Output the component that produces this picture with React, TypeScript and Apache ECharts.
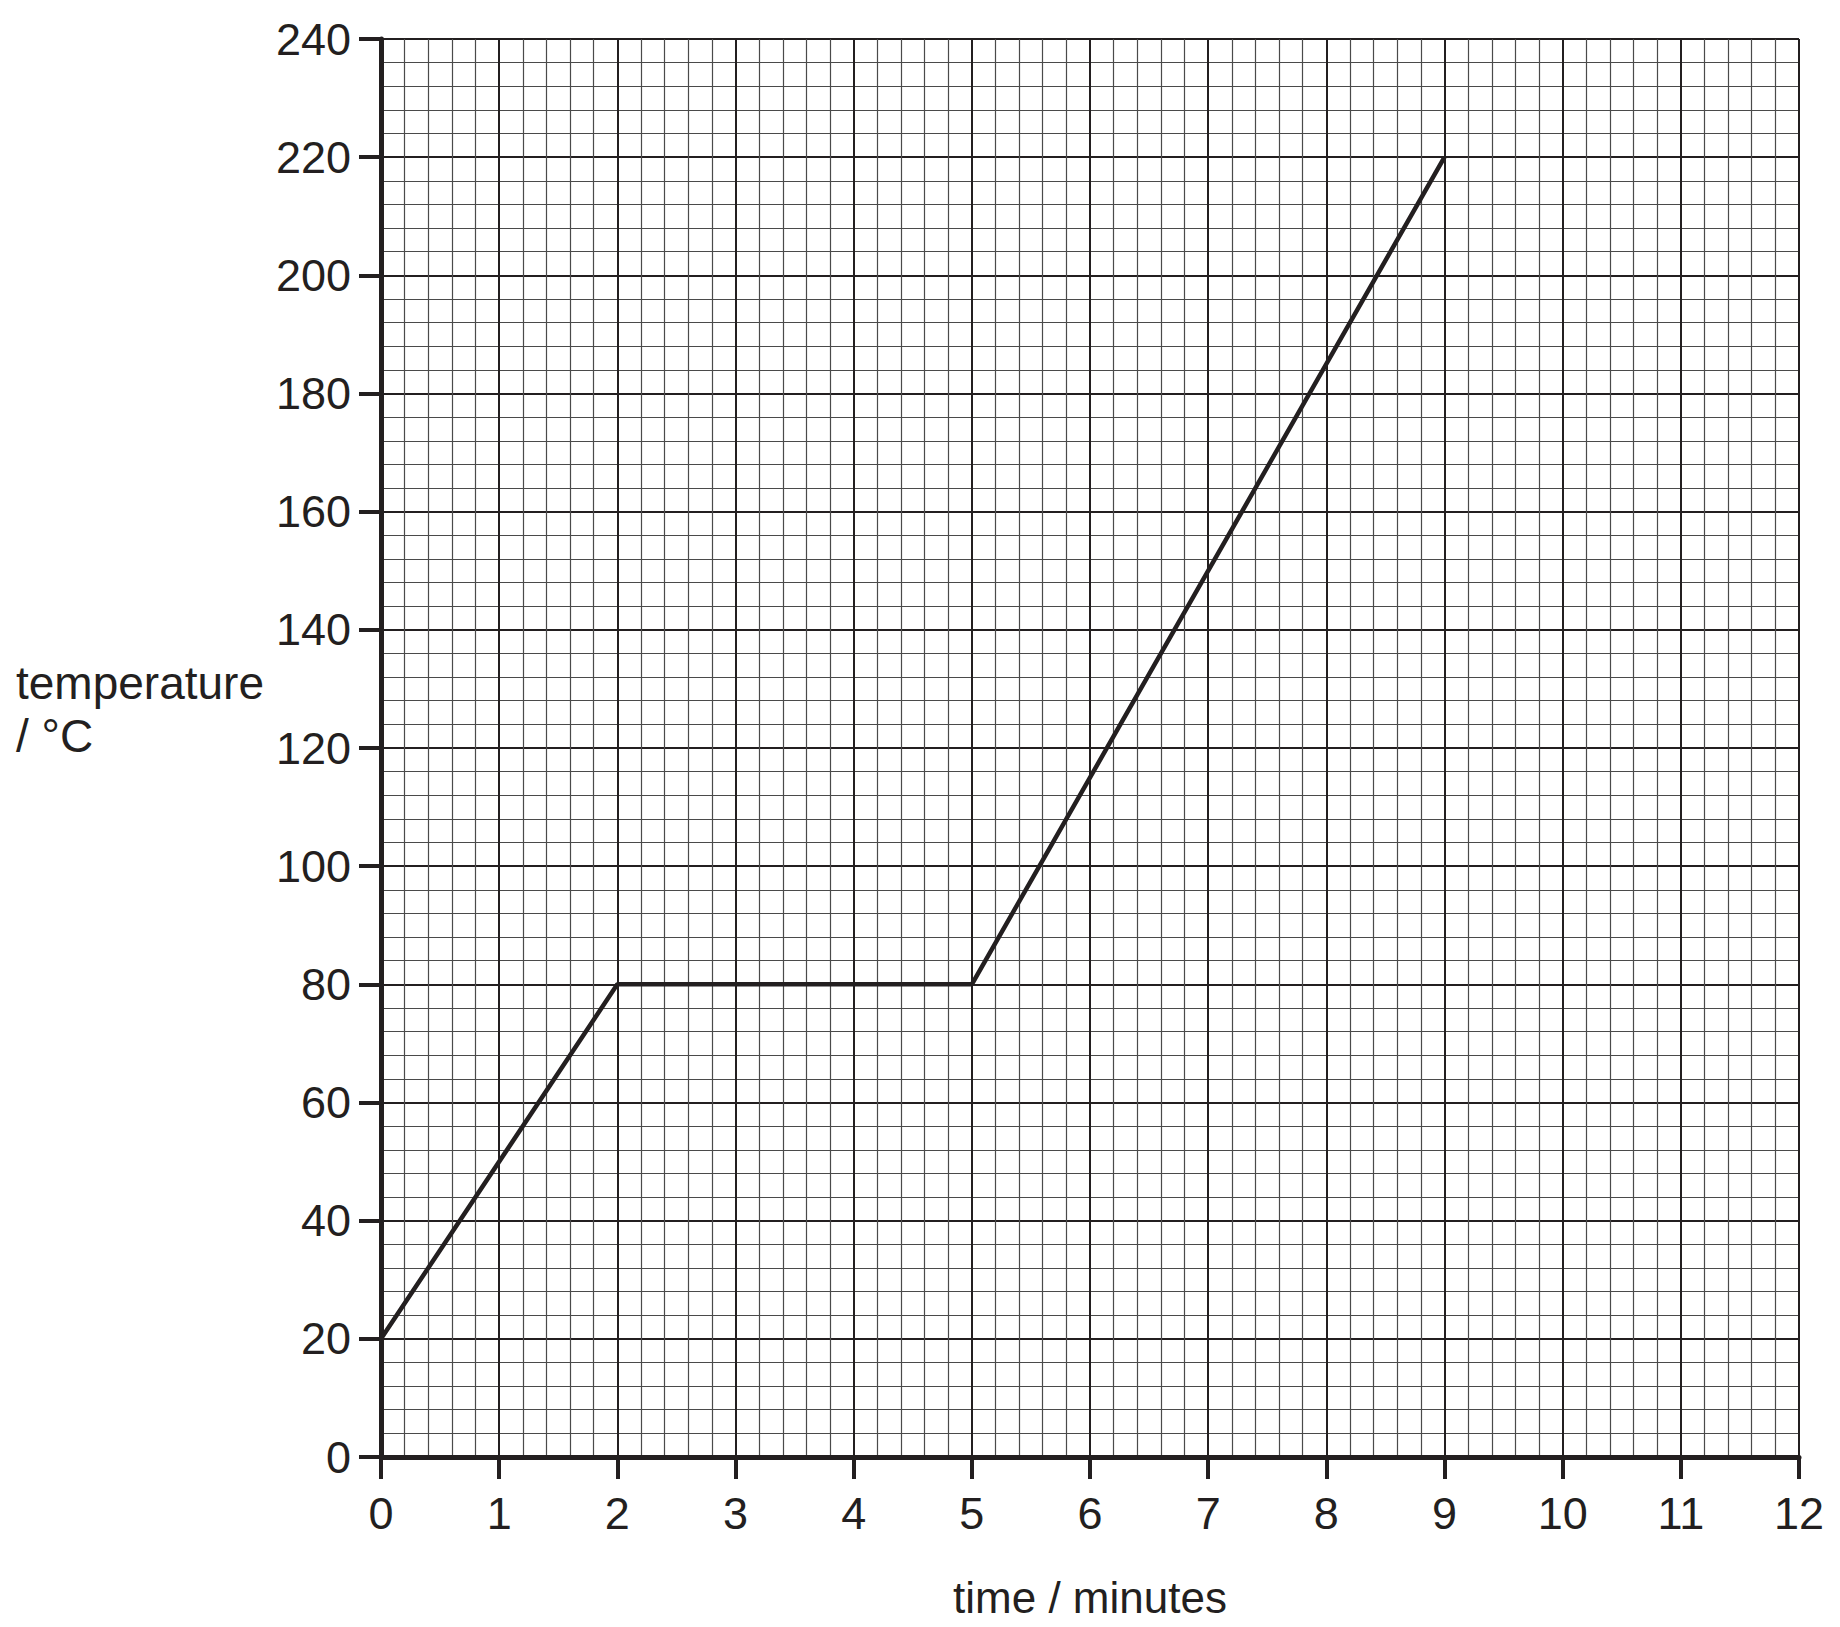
import React, { useEffect, useRef } from "react";
import * as echarts from "echarts";

const timeMinutes = [0, 2, 5, 9];
const temperatureC = [20, 80, 80, 220];
const xTicks = [0, 1, 2, 3, 4, 5, 6, 7, 8, 9, 10, 11, 12];
const yTicks = [0, 20, 40, 60, 80, 100, 120, 140, 160, 180, 200, 220, 240];

const INK = "#231f20";
const FONT = "'Liberation Sans', Arial, Helvetica, sans-serif";

export default function App() {
  const ref = useRef<HTMLDivElement>(null);
  useEffect(() => {
    document.body.style.margin = "0";
    const chart = echarts.init(ref.current!, null, { renderer: "svg" });
    const data = timeMinutes.map((t, i) => [t, temperatureC[i]]);
    chart.setOption({
      animation: false,
      backgroundColor: "#ffffff",
      textStyle: { fontFamily: FONT, color: INK },
      grid: { left: 381, top: 39, right: 41, bottom: 170, containLabel: false },
      xAxis: {
        type: "value",
        min: xTicks[0],
        max: xTicks[xTicks.length - 1],
        interval: 1,
        name: "time / minutes",
        nameLocation: "middle",
        nameGap: 118,
        nameTextStyle: { fontSize: 44, color: INK, fontFamily: FONT },
        axisLine: { show: true, onZero: false, lineStyle: { color: INK, width: 5 } },
        axisTick: { show: true, inside: false, length: 22, lineStyle: { color: INK, width: 4 } },
        axisLabel: { fontSize: 45, color: INK, margin: 34, fontFamily: FONT },
        splitLine: { show: true, lineStyle: { color: INK, width: 2 } },
        minorTick: { show: false, splitNumber: 5 },
        minorSplitLine: { show: true, lineStyle: { color: "#4a4a4a", width: 1.2 } },
      },
      yAxis: {
        type: "value",
        min: yTicks[0],
        max: yTicks[yTicks.length - 1],
        interval: 20,
        axisLine: { show: true, onZero: false, lineStyle: { color: INK, width: 5 } },
        axisTick: { show: true, inside: false, length: 22, lineStyle: { color: INK, width: 4 } },
        axisLabel: { fontSize: 45, color: INK, margin: 30, fontFamily: FONT },
        splitLine: { show: true, lineStyle: { color: INK, width: 2 } },
        minorTick: { show: false, splitNumber: 5 },
        minorSplitLine: { show: true, lineStyle: { color: "#4a4a4a", width: 1.2 } },
      },
      graphic: [
        {
          type: "text",
          left: 16,
          top: 656,
          style: {
            text: "temperature\n/ °C",
            font: `46px ${FONT}`,
            fill: INK,
            lineHeight: 53,
            align: "left",
          },
        },
      ],
      series: [
        {
          type: "line",
          data,
          symbol: "none",
          lineStyle: { color: INK, width: 4.5 },
          z: 5,
        },
      ],
    });
    return () => chart.dispose();
  }, []);
  return <div ref={ref} style={{ width: 1840, height: 1627 }} />;
}
